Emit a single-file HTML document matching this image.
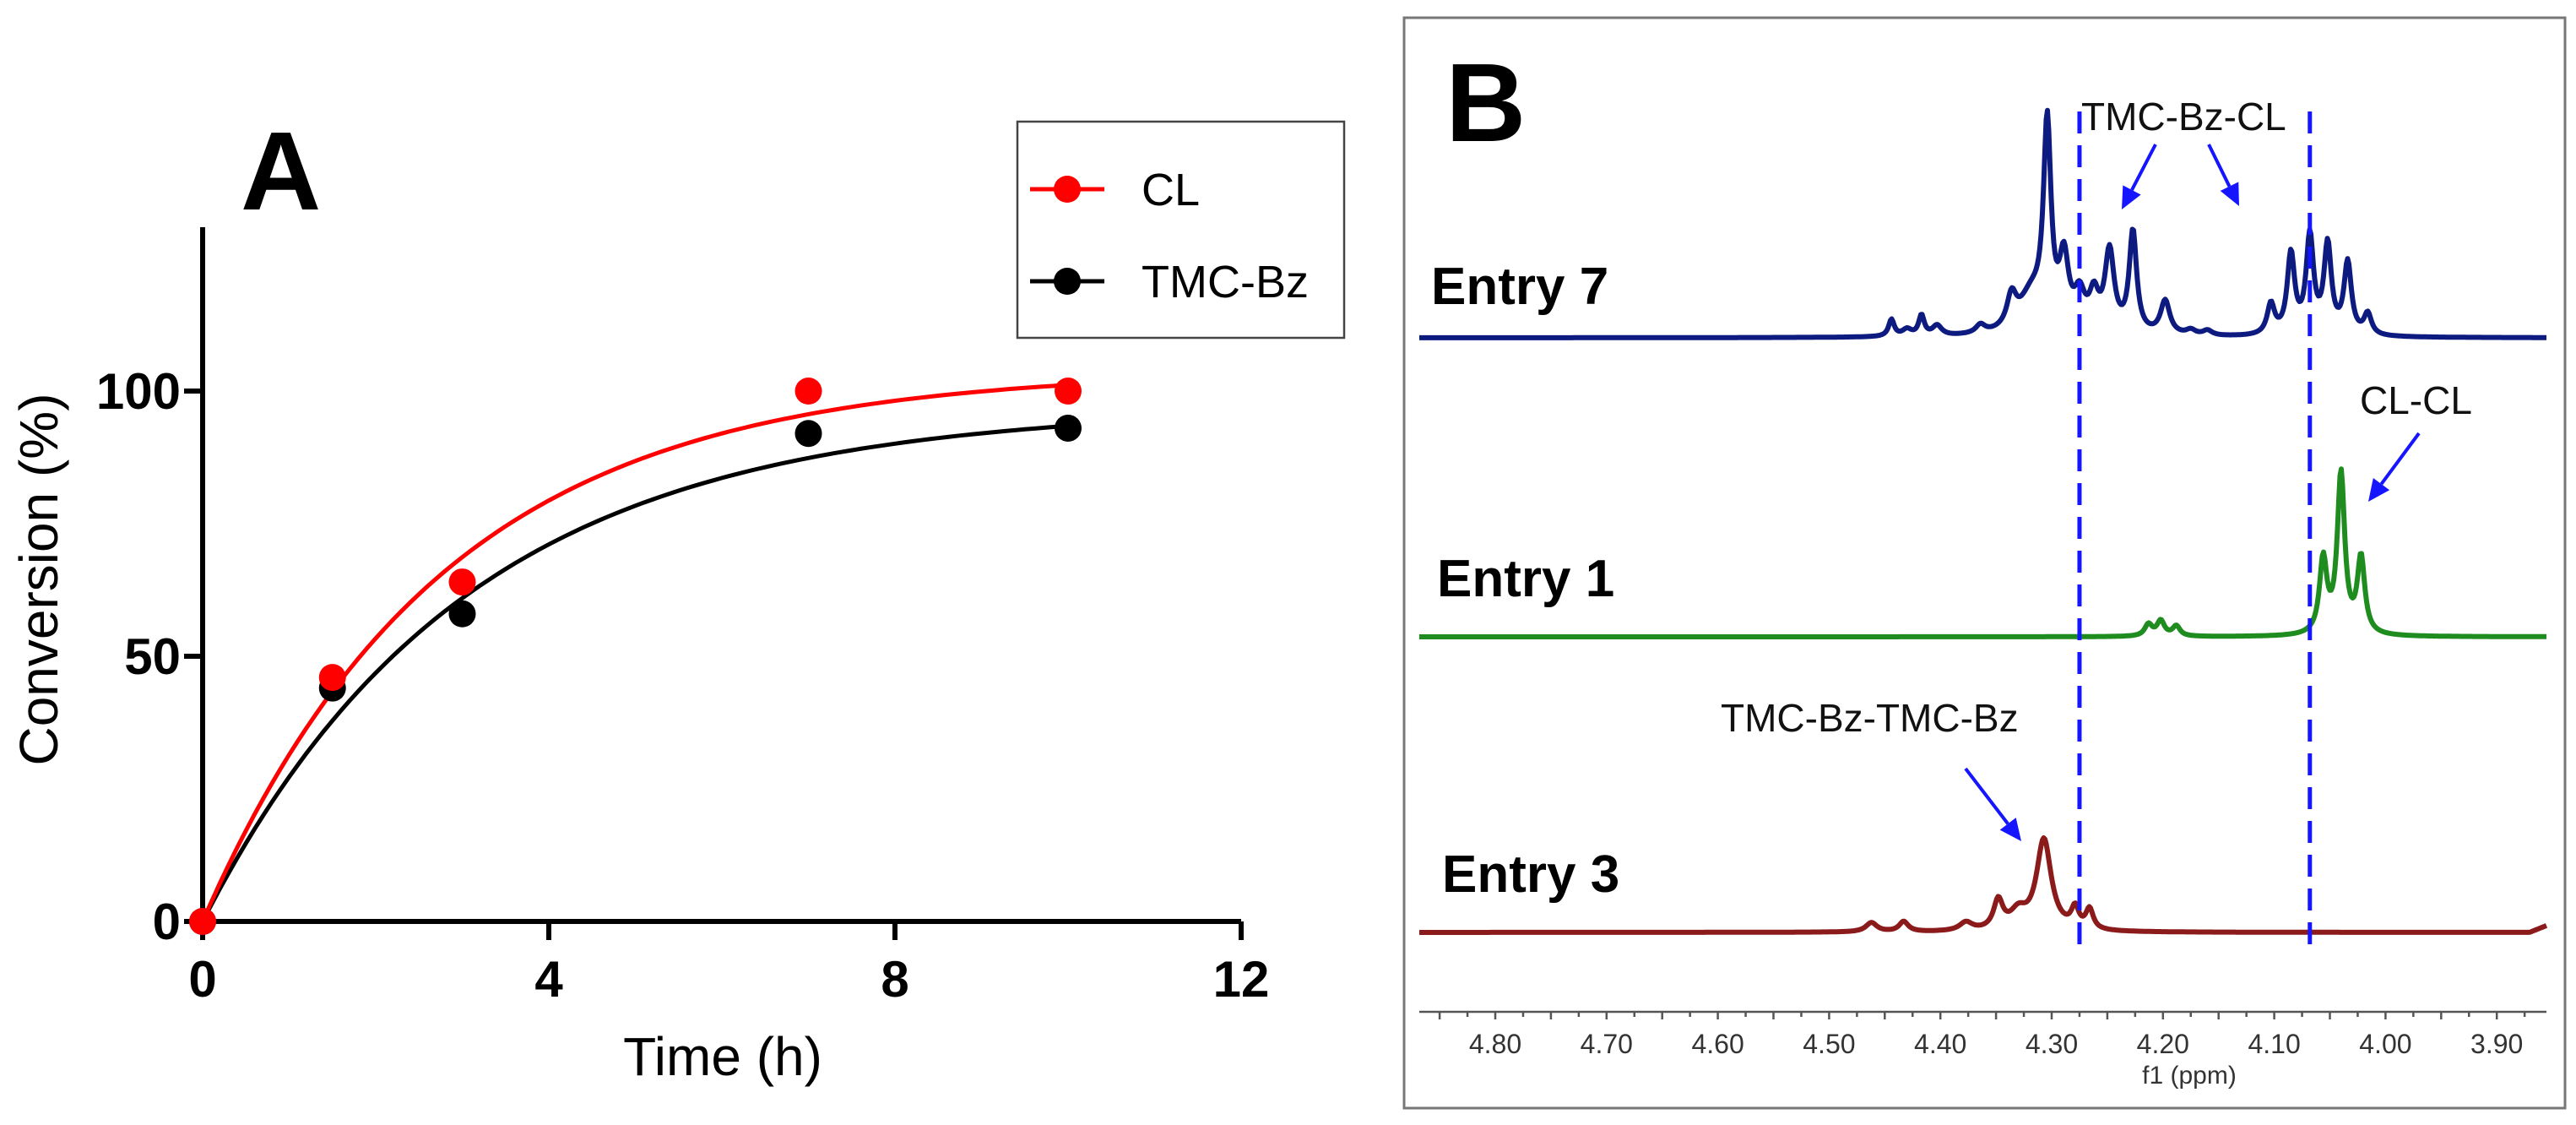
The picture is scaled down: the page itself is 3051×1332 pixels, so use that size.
<!DOCTYPE html>
<html><head><meta charset="utf-8"><style>
html,body{margin:0;padding:0;background:#fff}
svg{display:block}
text{font-family:"Liberation Sans",Arial,sans-serif}
</style></head><body>
<svg id="fig" width="3051" height="1332" viewBox="0 0 3051 1332" xmlns="http://www.w3.org/2000/svg">
<g id="panelA"></g>
<g id="panelB"></g>
</svg>
<script>
// ---- Panel A data ----
const timeCL = [0, 1.5, 3, 7, 10];
const convCL = [0, 46, 64, 100, 100];
const timeTMC = [0, 1.5, 3, 7, 10];
const convTMC = [0, 44, 58, 92, 93];
const fitCL = [104, 0.36];   // plateau, rate
const fitTMC = [97, 0.33];
const xTicks = [0, 4, 8, 12];
const yTicks = [0, 50, 100];
const seriesNames = ["CL", "TMC-Bz"];

// ---- Panel B data (peak ppm, height px, halfwidth ppm) ----
const e7ppm = [4.444,4.430,4.417,4.403,4.364,4.336,4.318,4.304,4.289,4.275,4.262,4.248,4.227,4.198,4.175,4.160,4.103,4.085,4.068,4.052,4.034,4.016];
const e7h   = [20,8,24,12,10,36,45,235,80,40,40,95,120,40,6,6,36,95,115,105,85,25];
const e7w   = [0.003,0.005,0.003,0.005,0.005,0.005,0.014,0.004,0.005,0.006,0.005,0.005,0.004,0.005,0.005,0.005,0.004,0.004,0.004,0.004,0.004,0.004];
const e1ppm = [4.213,4.202,4.188,4.056,4.040,4.022];
const e1h   = [14,18,12,88,190,90];
const e1w   = [0.004,0.004,0.004,0.004,0.004,0.004];
const e3ppm = [4.462,4.433,4.377,4.348,4.330,4.307,4.279,4.266];
const e3h   = [11,12,10,34,20,108,24,24];
const e3w   = [0.006,0.005,0.007,0.005,0.009,0.008,0.004,0.004];
const ppmTicks = [4.80,4.70,4.60,4.50,4.40,4.30,4.20,4.10,4.00,3.90];

const NS="http://www.w3.org/2000/svg";
function mk(tag, attrs, parent, txt){
  const e=document.createElementNS(NS,tag);
  for(const k in attrs) e.setAttribute(k, attrs[k]);
  if(txt!==undefined) e.textContent=txt;
  parent.appendChild(e); return e;
}
const A=document.getElementById('panelA');
const B=document.getElementById('panelB');

const X0=240, X1=1470, Y0=1091, Y100=463;
const xs=t=>X0+(t-0)/(12-0)*(X1-X0);
const ys=v=>Y0-(v/100)*(Y0-Y100);

let el;
el=mk('line',{x1:X0,y1:269,x2:X0,y2:Y0+3,stroke:'#000','stroke-width':6},A);


el=mk('line',{x1:X0-3,y1:Y0,x2:X1,y2:Y0,stroke:'#000','stroke-width':6},A);


yTicks.forEach(v=>{
  el=mk('line',{x1:X0-22,y1:ys(v),x2:X0,y2:ys(v),stroke:'#000','stroke-width':6},A);
  
  
  el=mk('text',{x:X0-26,y:ys(v)+21,'text-anchor':'end','font-size':60,'font-weight':'bold'},A,String(v));
  
  
});
xTicks.forEach(v=>{
  el=mk('line',{x1:xs(v),y1:Y0,x2:xs(v),y2:Y0+22,stroke:'#000','stroke-width':6},A);
  
  
  el=mk('text',{x:xs(v),y:Y0+89,'text-anchor':'middle','font-size':60,'font-weight':'bold'},A,String(v));
  
  
});
el=mk('text',{x:856,y:1273,'text-anchor':'middle','font-size':64},A,'Time (h)');


el=mk('text',{x:0,y:0,'text-anchor':'middle','font-size':64,transform:'translate(68,686) rotate(-90)'},A,'Conversion (%)');


el=mk('text',{x:285,y:248,'font-size':132,'font-weight':'bold'},A,'A');



function fitPath(p){
  let d='';
  for(let t=0;t<=10.001;t+=0.1){
    const v=p[0]*(1-Math.exp(-p[1]*t));
    d+=(t===0?'M':'L')+xs(t).toFixed(1)+','+ys(v).toFixed(1);
  }
  return d;
}
el=mk('path',{d:fitPath(fitTMC),fill:'none',stroke:'#000','stroke-width':5},A);


el=mk('path',{d:fitPath(fitCL),fill:'none',stroke:'#f00','stroke-width':5},A);


timeTMC.forEach((t,i)=>{
  el=mk('circle',{cx:xs(t),cy:ys(convTMC[i]),r:16,fill:'#000'},A);
  
  
});
timeCL.forEach((t,i)=>{
  el=mk('circle',{cx:xs(t),cy:ys(convCL[i]),r:16,fill:'#f00'},A);
  
  
});
const lg=mk('g',{},A);


mk('rect',{x:1205,y:144,width:387,height:256,fill:'#fff',stroke:'#444','stroke-width':2.5},lg);
[['#f00',224],['#000',333]].forEach((c,i)=>{
  const g=mk('g',{},lg);
  
  
  mk('line',{x1:1220,y1:c[1],x2:1308,y2:c[1],stroke:c[0],'stroke-width':5},g);
  mk('circle',{cx:1264,cy:c[1],r:16,fill:c[0]},g);
  mk('text',{x:1352,y:c[1]+19,'font-size':54},g,seriesNames[i]);
});

// ---- Panel B ----
el=mk('rect',{x:1663,y:21,width:1375,height:1291,fill:'none',stroke:'#777','stroke-width':3},B);


const px=p=>1771+(4.80-p)*1318;
const AX0=1681, AX1=3016, AY=1198;
el=mk('line',{x1:AX0,y1:AY,x2:AX1,y2:AY,stroke:'#555','stroke-width':2.5},B);


for(let k=0;k<=41;k++){
  const p=4.875-k*0.025; const x=px(p);
  if(x<AX0||x>AX1) continue;
  el=mk('line',{x1:x,y1:AY,x2:x,y2:AY+(k%2===1?9:6),stroke:'#555','stroke-width':2.5},B);
  
  
}
ppmTicks.forEach(p=>{
  el=mk('text',{x:px(p),y:1247,'text-anchor':'middle','font-size':32,fill:'#333'},B,p.toFixed(2));
  
  
});
el=mk('text',{x:2593,y:1283,'text-anchor':'middle','font-size':30,fill:'#333'},B,'f1 (ppm)');



function spec(pp,hh,ww,base,color,name,tail){
  let d='';
  for(let x=AX0;x<=AX1;x+=1.5){
    const p=4.80-(x-1771)/1318;
    let v=0;
    for(let i=0;i<pp.length;i++){const z=(p-pp[i])/ww[i]; v+=hh[i]/(1+z*z);}
    if(tail && x>AX1-20) v+= (x-(AX1-20))*0.4;
    d+=(x===AX0?'M':'L')+x.toFixed(1)+','+(base-v).toFixed(1);
  }
  const e=mk('path',{d:d,fill:'none',stroke:color,'stroke-width':6,'stroke-linejoin':'round'},B);
  
  
}
spec(e7ppm,e7h,e7w,400,'#0d1b80','spectrum-entry-7');
spec(e1ppm,e1h,e1w,754,'#1f8c1f','spectrum-entry-1');
spec(e3ppm,e3h,e3w,1104,'#8b1a1a','spectrum-entry-3',true);

[4.275,4.068].forEach(p=>{
  el=mk('line',{x1:px(p),y1:132,x2:px(p),y2:1124,stroke:'#1515ff','stroke-width':5,'stroke-dasharray':'26 14'},B);
  
  
});
[['Entry 7',1695,360],['Entry 1',1702,706],['Entry 3',1708,1056]].forEach(t=>{
  el=mk('text',{x:t[1],y:t[2],'font-size':62,'font-weight':'bold'},B,t[0]);
  
  
});
el=mk('text',{x:1712,y:167,'font-size':132,'font-weight':'bold'},B,'B');


[['TMC-Bz-CL',2465,154],['CL-CL',2795,490],['TMC-Bz-TMC-Bz',2038,866]].forEach(t=>{
  el=mk('text',{x:t[1],y:t[2],'font-size':46,fill:'#111'},B,t[0]);
  
  
});
function arrow(x1,y1,x2,y2){
  const g=mk('g',{},B);
  
  
  const a=Math.atan2(y2-y1,x2-x1), L=26, W=12;
  const bx=x2-L*Math.cos(a), by=y2-L*Math.sin(a);
  mk('line',{x1:x1,y1:y1,x2:bx,y2:by,stroke:'#1515ff','stroke-width':4},g);
  mk('polygon',{points:`${x2},${y2} ${bx-W*Math.sin(a)},${by+W*Math.cos(a)} ${bx+W*Math.sin(a)},${by-W*Math.cos(a)}`,fill:'#1515ff'},g);
}
arrow(2553,171,2513,248);
arrow(2616,171,2652,244);
arrow(2865,513,2805,594);
arrow(2328,910,2394,996);
</script>
</body></html>
